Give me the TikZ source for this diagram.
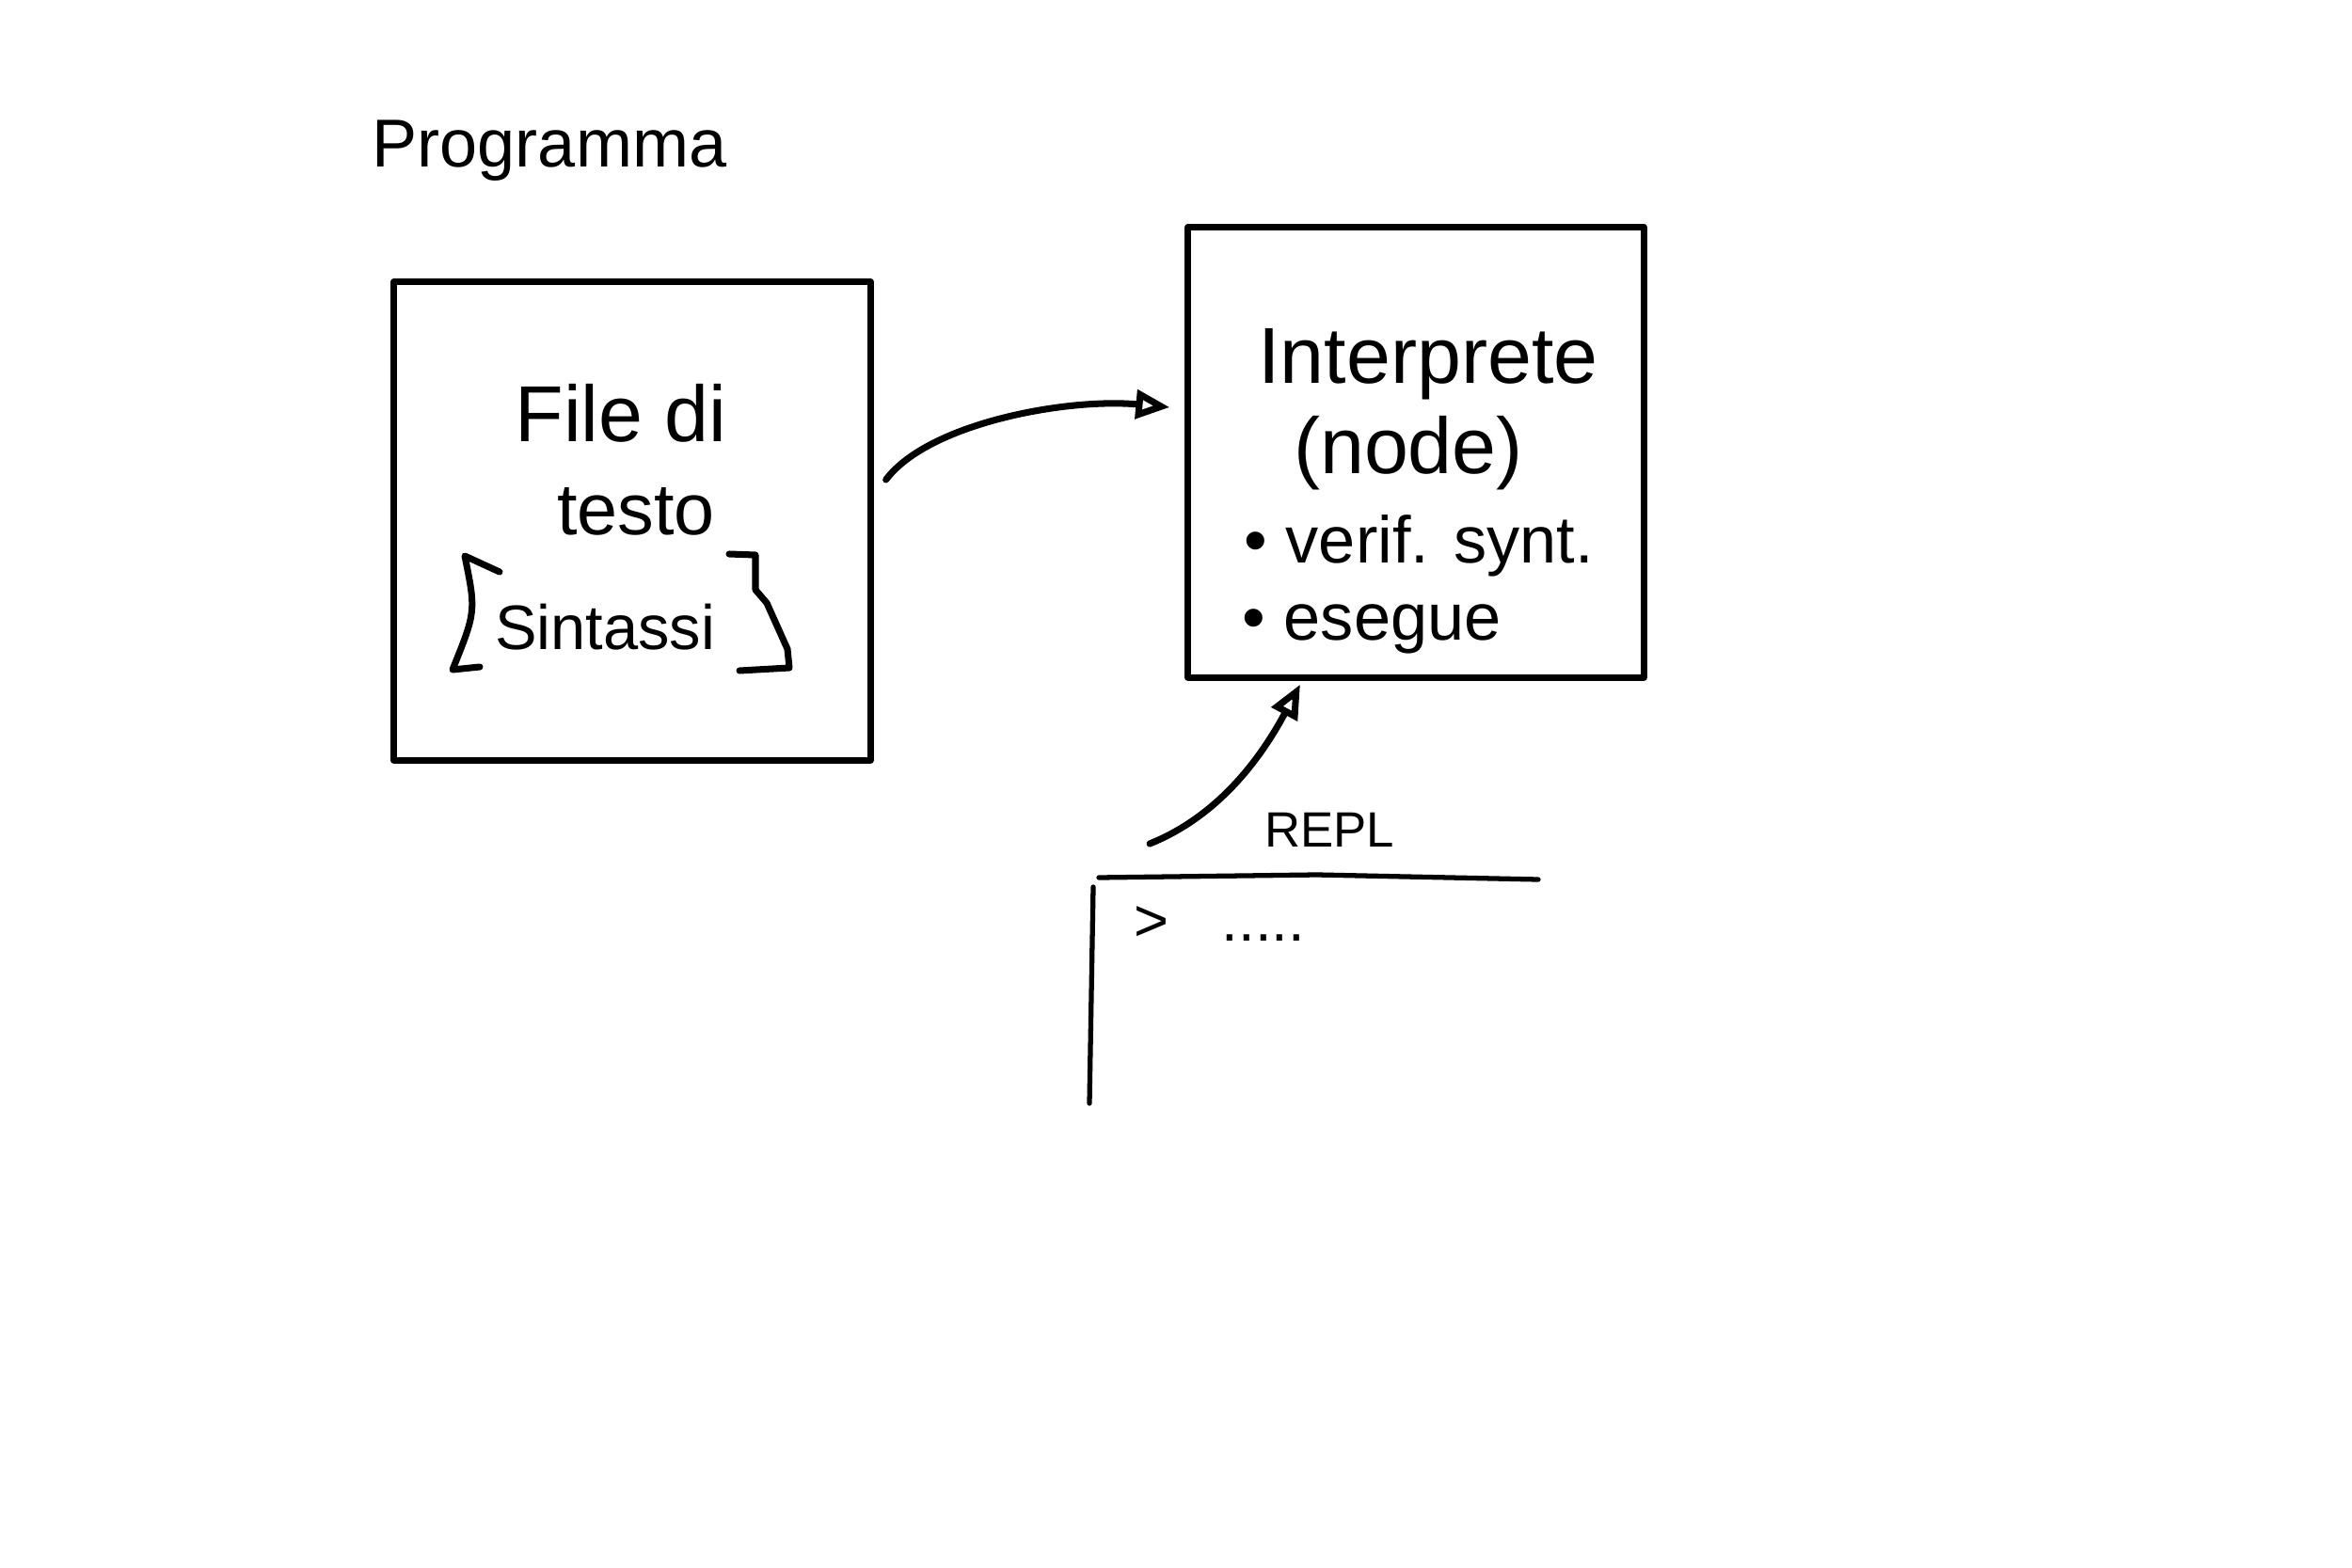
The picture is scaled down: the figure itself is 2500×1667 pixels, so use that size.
\documentclass[tikz,border=0pt]{standalone}
\usepackage{fontspec}
\setmainfont{Liberation Sans}
\usetikzlibrary{arrows.meta,calc}
\begin{document}
\begin{tikzpicture}[x={0.01cm},y={-0.01cm},line cap=round,line join=round,
  box/.style={draw,line width=2pt,inner sep=0pt},
  pen/.style={line width=2pt},
  txt/.style={anchor=base,inner sep=0pt,font=\fontsize{#1}{#1}\selectfont},
  flow/.style={line width=2pt,-{Triangle[open,length=3.6mm,width=3mm]}}]
\fill[white](0,0)rectangle(2500,1667);
\node[txt=20.5,anchor=base west](title)at(395,178){Programma};
\node[box,minimum width=5.06cm,minimum height=5.08cm](file)at(672,554){};
\node[txt=24](fileA)at(660,470){File di};
\node[txt=22](fileB)at(676,568){testo};
\node[txt=19](sint)at(643,690){Sintassi};
\draw[pen](531,608)--(494,591)..controls(506,650)..(481,712)--(510,709);
\draw[pen](775,589)--(803,590)--(803,627)--(815,641)--(837,690)--(839,710)--(786,713);
\node[box,minimum width=4.84cm,minimum height=4.78cm](interp)at(1505,481){};
\node[txt=24](interpA)at(1518,408){Interprete};
\node[txt=24](interpB)at(1497,504){(node)};
\node[txt=20,anchor=base west](verif)at(1322,598){• verif. synt.};
\node[txt=20,anchor=base west](esegue)at(1320,680){• esegue};
\draw[flow]($(file.east)+(13,-44)$)..controls +(45,-60) and +(-110,-10)..($(interp.west)+(-16,-48)$);
\node[txt=15](repl)at(1413,900){REPL};
\draw[line width=1.5pt](1168,933)--(1400,930)--(1635,935);
\draw[line width=1.5pt](1162,943)--(1158,1173);
\node[txt=18,anchor=base west](prompt)at(1205,1000){>\hspace{16pt}.....};
\coordinate(replout)at(1222,897);
\draw[flow](replout)..controls +(75,-30) and +(-40,75)..($(interp.south)+(-123,4)$);
\end{tikzpicture}
\end{document}
